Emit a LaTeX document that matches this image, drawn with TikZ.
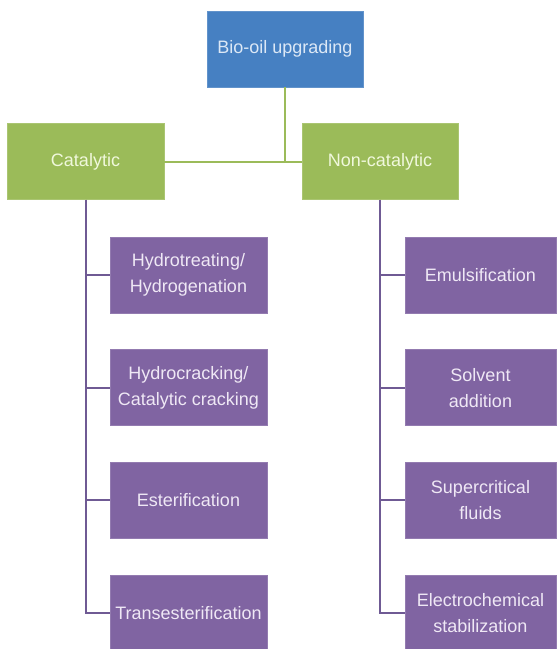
\documentclass[tikz,border=0pt]{standalone}
\usepackage{fontspec}
\setmainfont{Liberation Sans}
\usetikzlibrary{positioning}
\definecolor{UpgBlue}{HTML}{4680C2}
\definecolor{UpgGreen}{HTML}{9BBB59}
\definecolor{UpgPurple}{HTML}{8064A2}
\definecolor{UpgLine}{HTML}{6F5A94}
\definecolor{UpgPaleBlue}{HTML}{DCE8F6}
\definecolor{UpgPaleGreen}{HTML}{F0F8DC}
\definecolor{UpgPalePurple}{HTML}{EFE8F5}
\tikzset{
  box/.style={minimum width=157pt, minimum height=76pt, inner sep=2pt, align=center,
              line width=0.6pt, font=\fontsize{18}{26}\selectfont},
  root/.style={box, fill=UpgBlue, draw=UpgBlue!85!white, text=UpgPaleBlue},
  branch/.style={box, fill=UpgGreen, draw=UpgGreen!85!white, text=UpgPaleGreen},
  leaf/.style={box, fill=UpgPurple, draw=UpgPurple!85!white, text=UpgPalePurple},
  trunk/.style={line width=2pt, draw=UpgGreen},
  twig/.style={line width=2pt, draw=UpgLine},
}
\begin{document}
\begin{tikzpicture}[x=1pt,y=-1pt,node distance=36pt]
    \useasboundingbox (0,0) rectangle (557,649);
    \node[root,minimum width=156pt] (root) at (285,49) {Bio-oil upgrading};
    \node[branch] (cat) at (85.5,161.5) {Catalytic};
    \node[branch,minimum width=156pt] (noncat) at (380,161.5) {Non-catalytic};
    % catalytic routes
    \node[leaf] (hydro) at (188.5,275) {Hydrotreating/\\Hydrogenation};
    \node[leaf,below=of hydro] (crack) {Hydrocracking/\\Catalytic cracking};
    \node[leaf,below=of crack] (ester) {Esterification};
    \node[leaf,below=of ester] (trans) {Transesterification};
    % non-catalytic routes
    \node[leaf,minimum width=151pt] (emul) at (480.5,275) {Emulsification};
    \node[leaf,minimum width=151pt,below=of emul] (solv) {Solvent\\addition};
    \node[leaf,minimum width=151pt,below=of solv] (superc) {Supercritical\\fluids};
    \node[leaf,minimum width=151pt,below=of superc] (electro) {Electrochemical\\stabilization};
    \draw[trunk] (root) -- (root |- cat);
    \draw[trunk] (cat) -- (noncat);
    \foreach \n in {hydro,crack,ester,trans}
      \draw[twig] (cat.south) |- (\n.west);
    \foreach \n in {emul,solv,superc,electro}
      \draw[twig] (noncat.south) |- (\n.west);
\end{tikzpicture}
\end{document}
